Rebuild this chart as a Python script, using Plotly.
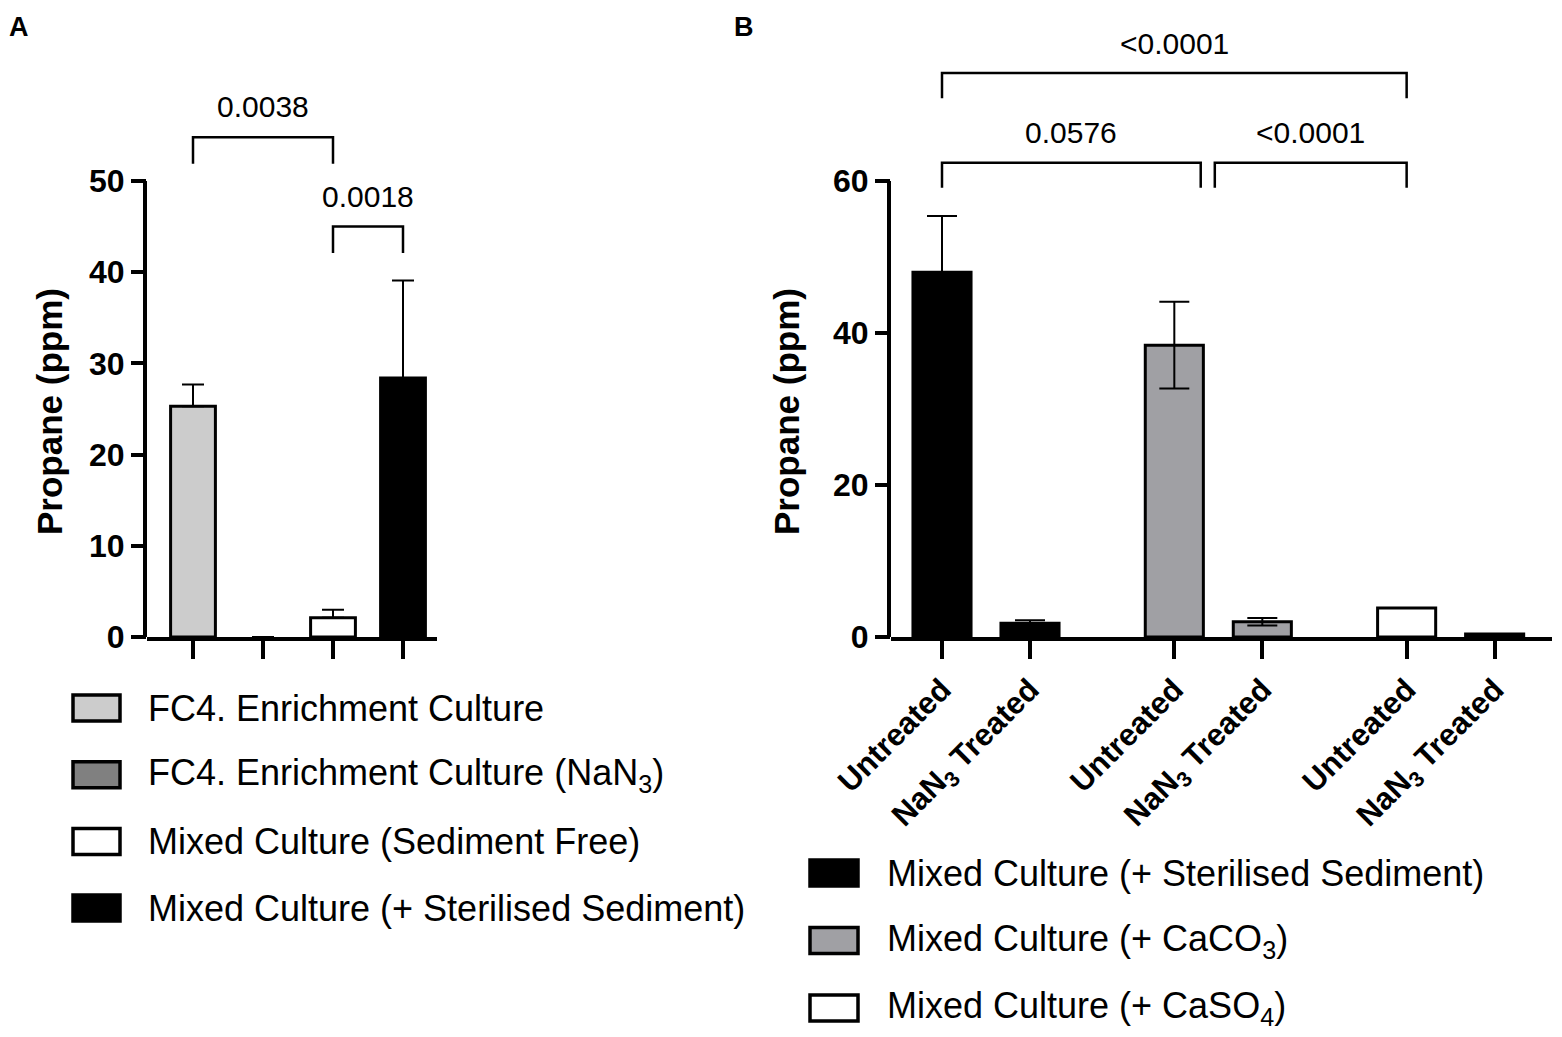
import plotly.graph_objects as go

# ---------------- data ----------------
a_categories = ["FC4. Enrichment Culture", "FC4. Enrichment Culture (NaN<sub>3</sub>)",
                "Mixed Culture (Sediment Free)", "Mixed Culture (+ Sterilised Sediment)"]
a_values = [25.3, 0.0, 2.1, 28.4]
a_sd = [2.4, 0.0, 0.9, 10.7]
a_fill = ["#cccccc", "#808080", "#ffffff", "#000000"]

b_ticklabels = ["Untreated", "NaN<sub>3</sub> Treated", "Untreated", "NaN<sub>3</sub> Treated",
                "Untreated", "NaN<sub>3</sub> Treated"]
b_positions = [0, 1, 2.64, 3.64, 5.28, 6.28]
b_values = [48.0, 1.8, 38.4, 2.0, 3.8, 0.4]
b_sd = [7.4, 0.4, 5.7, 0.5, 0.0, 0.0]
b_fill = ["#000000", "#000000", "#a0a0a4", "#a0a0a4", "#ffffff", "#ffffff"]
b_series = ["Mixed Culture (+ Sterilised Sediment)", "Mixed Culture (+ CaCO<sub>3</sub>)",
            "Mixed Culture (+ CaSO<sub>4</sub>)"]
b_series_fill = ["#000000", "#a0a0a4", "#ffffff"]

a_yticks = [0, 10, 20, 30, 40, 50]
b_yticks = [0, 20, 40, 60]

# significance brackets: (left index, right index, bracket height, label)
a_brackets = [(0, 2, 54.8, "0.0038"), (2, 3, 45.0, "0.0018")]
b_brackets = [(0, 4, 74.2, "<0.0001"), (0, 2.3, 62.4, "0.0576"), (2.46, 4, 62.4, "<0.0001")]

# ---------------- layout geometry ----------------
OFF = 8                      # page body margin
W, H = 1562 - OFF, 1037 - OFF
FONT = "Liberation Sans"

def px(x):
    return (x - OFF) / W

def py(y):
    return 1 - (y - OFF) / H

base_y = 637
a_left, a_right, a_x0, a_step, a_ppu = 147, 437, 193, 70, 9.12
b_left, b_right, b_x0, b_step, b_ppu = 891, 1552, 942, 88, 7.6

fig = go.Figure()

a_x = list(range(len(a_values)))
fig.add_trace(go.Bar(
    x=a_x, y=a_values, width=0.64,
    marker=dict(color=a_fill, line=dict(color="black", width=[3 if v > 0 else 0 for v in a_values])),
    error_y=dict(type="data", array=a_sd, arrayminus=[0] * len(a_sd), symmetric=False,
                 color="black", thickness=2, width=11),
    xaxis="x", yaxis="y", showlegend=False,
))

fig.add_trace(go.Bar(
    x=b_positions, y=b_values, width=0.66,
    marker=dict(color=b_fill, line=dict(color="black", width=3)),
    error_y=dict(type="data", array=b_sd, symmetric=True,
                 color="black", thickness=2, width=15),
    xaxis="x2", yaxis="y2", showlegend=False,
))

tickfont = dict(family=FONT, size=32, color="black")
common = dict(ticks="outside", tickwidth=4, tickcolor="black", showgrid=False,
              zeroline=False, automargin=False)
fig.update_layout(
    template="none",
    width=W, height=H, margin=dict(l=0, r=0, t=0, b=0, pad=0, autoexpand=False),
    paper_bgcolor="white", plot_bgcolor="white",
    font=dict(family=FONT, color="black"),
    xaxis=dict(domain=[px(a_left), px(a_right)],
               range=[(a_left - a_x0) / a_step, (a_right - a_x0) / a_step],
               tickvals=a_x, ticktext=[""] * len(a_x), ticklen=18,
               showline=True, linewidth=4, linecolor="black", anchor="y", **common),
    yaxis=dict(domain=[py(base_y), 1], range=[0, (base_y - OFF) / a_ppu],
               tickvals=a_yticks, ticktext=[f"<b>{v}</b>" for v in a_yticks],
               ticklen=15, tickfont=tickfont, showline=False, anchor="x", **common),
    xaxis2=dict(domain=[px(b_left), px(b_right)],
                range=[(b_left - b_x0) / b_step, (b_right - b_x0) / b_step],
                tickvals=b_positions, ticktext=[f"<b>{t}</b>" for t in b_ticklabels],
                tickangle=-45, tickfont=dict(family=FONT, size=31, color="black"),
                ticklen=18, showline=True, linewidth=4, linecolor="black", anchor="y2", **common),
    yaxis2=dict(domain=[py(base_y), 1], range=[0, (base_y - OFF) / b_ppu],
                tickvals=b_yticks, ticktext=[f"<b>{v}</b>" for v in b_yticks],
                ticklen=15, tickfont=tickfont, showline=False, anchor="x2", **common),
)

# y axis lines only up to the last tick
fig.add_shape(type="line", xref="paper", yref="y", x0=px(a_left - 2), x1=px(a_left - 2),
              y0=-0.2, y1=a_yticks[-1], line=dict(color="black", width=4))
fig.add_shape(type="line", xref="paper", yref="y2", x0=px(b_left - 2), x1=px(b_left - 2),
              y0=-0.2, y1=b_yticks[-1], line=dict(color="black", width=4))

# brackets
def bracket(xref, yref, xl, xr, h, leg, label):
    fig.add_shape(type="path", xref=xref, yref=yref,
                  path=f"M {xl},{h - leg} L {xl},{h} L {xr},{h} L {xr},{h - leg}",
                  line=dict(color="black", width=2.5))
    fig.add_annotation(xref=xref, yref=yref, x=(xl + xr) / 2, y=h + leg * 0.45,
                       text=label, showarrow=False, xanchor="center", yanchor="bottom",
                       font=dict(family=FONT, size=30, color="black"))

for l, r, h, lab in a_brackets:
    bracket("x", "y", l, r, h, 2.9, lab)

def b_pos(v):
    # interpolate fractional indices onto the position list
    i = int(v)
    if i >= len(b_positions) - 1:
        return b_positions[-1]
    return b_positions[i] + (v - i) * (b_positions[i + 1] - b_positions[i])

for l, r, h, lab in b_brackets:
    bracket("x2", "y2", b_pos(l), b_pos(r), h, 3.3, lab)

# axis titles
for xc in (50, 787):
    fig.add_annotation(xref="paper", yref="paper", x=px(xc), y=py(412),
                       xanchor="center", yanchor="middle",
                       text="<b>Propane (ppm)</b>", textangle=-90, showarrow=False,
                       font=dict(family=FONT, size=35, color="black"))

# panel letters
for lx, letter in ((7, "A"), (732, "B")):
    fig.add_annotation(xref="paper", yref="paper", x=px(lx), y=py(10), xanchor="left",
                       yanchor="top", text=f"<b>{letter}</b>", showarrow=False,
                       font=dict(family=FONT, size=27, color="black"))

# legends
def legend(x0, y0, dy, names, fills, sw_w, sw_h, text_x):
    for k, (name, fill) in enumerate(zip(names, fills)):
        yc = y0 + k * dy
        fig.add_shape(type="rect", xref="paper", yref="paper",
                      x0=px(x0), x1=px(x0 + sw_w), y0=py(yc - sw_h / 2), y1=py(yc + sw_h / 2),
                      fillcolor=fill, line=dict(color="black", width=3.5))
        fig.add_annotation(xref="paper", yref="paper", x=px(text_x), y=py(yc),
                           xanchor="left", yanchor="middle", text=name, showarrow=False,
                           font=dict(family=FONT, size=36, color="black"))

legend(73, 708, 66.7, a_categories, a_fill, 47, 26, 146)
legend(810, 873, 67.5, b_series, b_series_fill, 48, 26, 885)

fig.write_html("out.html")
